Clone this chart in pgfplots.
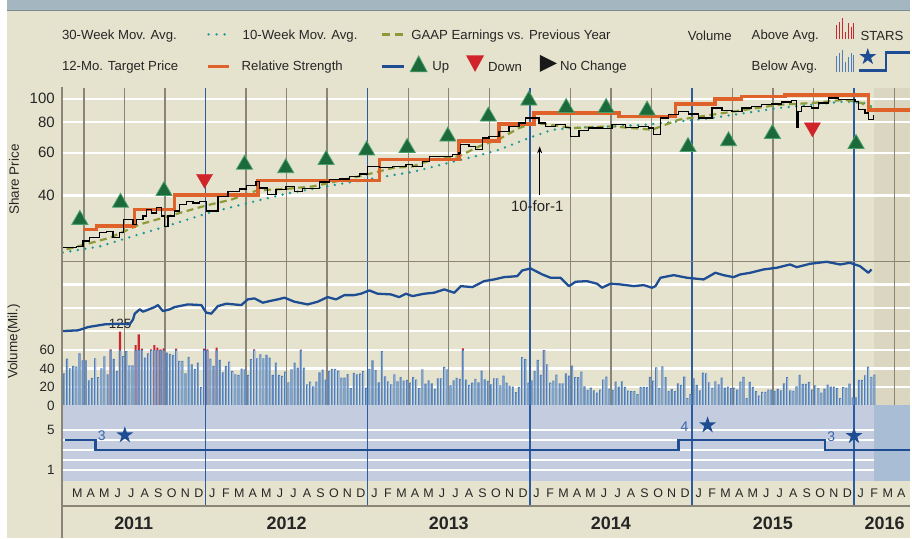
\documentclass[border=0pt]{standalone}
\usepackage{fontspec}
\setmainfont{Liberation Sans}
\usepackage{pgfplots}
\usepackage{pgfplotstable}
\pgfplotsset{compat=1.18}
\usetikzlibrary{arrows.meta,shapes.geometric}

\definecolor{bg}{HTML}{E5E3CD}
\definecolor{bgfut}{HTML}{DBD6BF}
\definecolor{topbar}{HTML}{A4B6C0}
\definecolor{topline}{HTML}{7C8A91}
\definecolor{qgrey}{HTML}{8A8576}
\definecolor{yblue}{HTML}{2D5C9E}
\definecolor{rsblue}{HTML}{1E4D93}
\definecolor{tgt}{HTML}{E0622B}
\definecolor{olive}{HTML}{8C9A3A}
\definecolor{teal30}{HTML}{19979A}
\definecolor{upgreen}{HTML}{1C6A3B}
\definecolor{upedge}{HTML}{4AA068}
\definecolor{dnred}{HTML}{D0232A}
\definecolor{volblue}{HTML}{4F7DB7}
\definecolor{volhi}{HTML}{9DBADD}
\definecolor{volred}{HTML}{C9262E}
\definecolor{starbox}{HTML}{C4CDE0}
\definecolor{starfut}{HTML}{A9BDD5}
\definecolor{lbl}{HTML}{3A66A8}
\definecolor{txt}{HTML}{262626}

\newcommand\fs[1]{\fontsize{#1bp}{#1bp}\selectfont}

% filled five-point star mark
\pgfdeclareplotmark{fstar}{%
  \pgfpathmoveto{\pgfpointpolar{90}{\pgfplotmarksize}}%
  \pgfpathlineto{\pgfpointpolar{126}{0.382*\pgfplotmarksize}}%
  \pgfpathlineto{\pgfpointpolar{162}{\pgfplotmarksize}}%
  \pgfpathlineto{\pgfpointpolar{198}{0.382*\pgfplotmarksize}}%
  \pgfpathlineto{\pgfpointpolar{234}{\pgfplotmarksize}}%
  \pgfpathlineto{\pgfpointpolar{270}{0.382*\pgfplotmarksize}}%
  \pgfpathlineto{\pgfpointpolar{306}{\pgfplotmarksize}}%
  \pgfpathlineto{\pgfpointpolar{342}{0.382*\pgfplotmarksize}}%
  \pgfpathlineto{\pgfpointpolar{18}{\pgfplotmarksize}}%
  \pgfpathlineto{\pgfpointpolar{54}{0.382*\pgfplotmarksize}}%
  \pgfpathclose\pgfusepathqfill}

\pgfplotsset{
  base/.style={scale only axis, width=850bp, xmin=1.36, xmax=64.16,
    anchor=south west, clip=false,
    axis line style={draw=none}, major tick length=0pt,
    xtick=\empty, ytick=\empty,
    tick label style={font=\fs{13.5}, text=txt},
    yticklabel style={anchor=east, inner sep=0pt, xshift=-7bp}},
  yearlines/.style={extra x ticks={12,24,36,48,60}, extra x tick labels={},
    extra x tick style={grid=major, major grid style={yblue, line width=1.4bp}}},
}

% weekly volume (millions), first week early Feb 2011
\pgfplotstableread[row sep=\\]{
v\\
34.8\\50.7\\40.2\\42.7\\42\\56.4\\48.9\\48.9\\27.2\\29.8\\51\\30.5\\40.2\\53.2\\33.7\\60.8\\50.3\\37\\79.8\\53.5\\
58.9\\43.4\\43.4\\65.4\\77\\61.4\\51.7\\56.4\\60.8\\65.4\\62.6\\60.8\\61.8\\57.1\\55.7\\54.6\\61.4\\48.1\\48.1\\34.8\\
52.5\\44.5\\39.5\\46.3\\20\\61.4\\60.8\\50.7\\42.7\\62.6\\49.2\\35.9\\42.7\\47.4\\37.3\\33.7\\33\\39.8\\39.1\\33\\
50\\60.8\\51\\55.3\\51\\54.6\\51.7\\33\\46.3\\33\\31.9\\36.6\\25\\39.1\\46.3\\40.9\\60.4\\40.9\\22.9\\25.8\\
20.7\\25.8\\35.9\\38.8\\28\\37.3\\39.5\\39.5\\37.7\\30.1\\30.1\\34\\18.6\\35.2\\33.7\\34.4\\37\\19.3\\39.5\\48.9\\
38.1\\25\\58.9\\31.5\\26.1\\22.9\\33.7\\26.1\\30.5\\26.9\\27.6\\24.7\\30.5\\28\\18.6\\39.1\\23.6\\27.2\\23.9\\17.9\\
29.4\\29.4\\41.6\\39.1\\21.8\\27.2\\29.8\\28.7\\61.8\\28\\22.2\\24.7\\28.7\\25\\37.7\\28.3\\26.5\\22.9\\29.4\\29.4\\
21.8\\32.3\\24.7\\21.1\\20.4\\14.3\\20\\52.4\\50\\24.7\\27.2\\37\\49.2\\33\\60\\44.5\\24.7\\26.9\\33.4\\23.9\\
23.9\\34.8\\32.3\\43\\30.5\\30.5\\36.6\\20.7\\16.8\\19.3\\16.4\\13.9\\17.1\\28\\31.2\\18.2\\16.8\\25.8\\20.4\\26.1\\
20\\16\\15.4\\15.4\\12.1\\20\\20\\19.7\\30.8\\26.9\\41.3\\18.9\\42.3\\30.5\\15.4\\17.5\\15.4\\23.9\\22.2\\31.2\\
7.8\\12.1\\29.4\\22.2\\16.4\\35.5\\34.8\\25\\19.3\\26.1\\22.9\\30.1\\19.3\\20.4\\18.6\\19.3\\17.1\\25.8\\30.8\\7.8\\
25.4\\20\\15.4\\10.7\\14.6\\14.6\\17.1\\17.1\\15.7\\17.9\\16.4\\23.9\\30.5\\16.4\\15.7\\20.7\\33\\23.3\\23.3\\25.4\\
17.1\\21.8\\18.6\\13.9\\18.2\\22.5\\20.4\\20.4\\18.6\\7.8\\19.7\\19.3\\23.6\\8.8\\8.8\\27.6\\27.6\\32.6\\42\\30.8\\
33.4\\
}\voldata

\begin{document}
\begin{tikzpicture}

% ---------- background ----------
\begin{scope}[x=1bp, y=-1bp, shift={(0bp,539bp)}]
  \fill[white] (0,0) rectangle (912,539);
  \fill[bg] (7,0) rectangle (912,539);
  \fill[topbar] (7,0) rectangle (912,10);
  \draw[topline, line width=1.2bp] (7,10.3) -- (912,10.3);
  \fill[bgfut] (876,88) rectangle (912,406.2);
\end{scope}

% ---------- horizontal white grid, price panel ----------
\begin{axis}[base, at={(62bp,276.7bp)}, height=174.3bp,
  ymode=log, ymin=21.35, ymax=110.96,
  ytick={40,60,80,100}, yticklabels={40,60,80,100}, ymajorgrids,
  major grid style={white, line width=2.2bp},
  yticklabel style={font=\fs{15}}]
\addplot[draw=none] coordinates {(2,50)};
\end{axis}

% ---------- horizontal white grid, volume panel ----------
\begin{axis}[base, at={(62bp,132.8bp)}, height=143.9bp, ymin=0, ymax=155.6,
  ytick={20,40,60,80.5,105.8,131}, yticklabels={20,40,60,,,}, ymajorgrids,
  major grid style={white, line width=2.2bp},
  extra y ticks={0}, extra y tick labels={0}, extra y tick style={grid=none}]
\addplot[draw=none] coordinates {(2,50)};
\end{axis}

% ---------- vertical quarter and year lines ----------
\begin{axis}[base, yearlines, at={(62bp,132.8bp)}, height=318.2bp, ymin=0, ymax=1,
  xtick={3,6,9,15,18,21,27,30,33,39,42,45,51,54,57,63}, xticklabels={},
  xmajorgrids, major grid style={qgrey, line width=1.4bp}]
\addplot[draw=none] coordinates {(2,0.5)};
\end{axis}

\begin{scope}[x=1bp, y=-1bp, shift={(0bp,539bp)}]
  \draw[qgrey, line width=1.3bp] (62,262.3) -- (912,262.3);
\end{scope}

% ---------- price panel ----------
\begin{axis}[base, at={(62bp,276.7bp)}, height=174.3bp,
  ymode=log, ymin=21.35, ymax=110.96]
% 30-week moving average
\addplot[teal30, line width=2.6bp, line cap=round, dash pattern=on 0bp off 7.6bp] coordinates {
 (1.43,23.3) (4.17,24.7) (6.63,27.2) (9.10,29.9) (12.05,33.7) (15.01,37.1) (17.96,40.7)
 (20.92,43.6) (23.87,46.5) (27.31,50.0) (30.27,55.0) (32.24,58.5) (33.72,61.7) (35.94,69.0)
 (37.66,74.6) (39.63,76.2) (42.09,77.0) (44.56,78.2) (47.02,80.7) (49.48,83.3) (51.95,87.4)
 (54.41,91.6) (56.87,94.5) (59.33,97.5) (60.81,96.0) (61.30,93.0)};
% 10-week moving average
\addplot[olive, line width=2.2bp, dash pattern=on 7bp off 4.5bp] coordinates {
 (1.71,24.0) (4.91,26.8) (7.12,30.4) (10.08,33.9) (12.05,36.4) (13.92,38.5) (15.84,42.0)
 (18.20,42.7) (19.93,43.6) (21.66,45.7) (23.87,48.7) (25.84,51.9) (27.31,52.7) (28.79,56.2)
 (30.76,58.0) (32.24,63.7) (33.72,68.2) (35.20,75.8) (36.31,79.5) (37.17,78.7) (39.14,75.8)
 (42.09,77.0) (45.05,74.6) (47.02,82.0) (49.48,86.0) (51.95,90.1) (54.41,94.5) (56.87,96.0)
 (59.33,99.1) (60.56,96.0) (61.30,91.6)};
% 12-month target price
\addplot[tgt, line width=3.6bp, const plot] coordinates {
 (2.93,29.0) (3.92,29.9) (6.75,35.0) (9.71,40.2) (15.86,46.1) (24.86,56.2) (30.77,67.2)
 (33.72,78.7) (36.31,87.4) (42.59,84.6) (46.78,95.1) (49.73,100) (51.67,102.2) (54.90,103.9)
 (61.06,90.1) (64.16,90.1)};
% share price
\addplot[black, line width=1.3bp, const plot] coordinates {
 (1.43,24.5) (2.45,24.7) (2.93,26.0) (3.43,26.9) (4.17,28.1) (4.66,28.5) (5.15,26.8) (5.64,28.1)
 (5.94,31.9) (6.63,30.4) (6.88,31.9) (7.37,32.9) (7.62,35.0) (7.99,33.9) (8.36,35.6) (8.73,32.9)
 (8.97,29.9) (9.21,32.9) (9.71,34.5) (10.08,36.7) (10.57,37.9) (11.06,37.3) (11.56,37.9)
 (12.05,34.5) (12.54,34.5) (12.91,39.7) (13.65,41.6) (14.51,42.6) (15.01,44.1) (15.74,45.7)
 (15.99,43.0) (16.60,40.3) (17.22,42.3) (17.96,43.6) (18.57,41.6) (19.19,42.7) (19.93,42.7)
 (20.42,45.5) (21.16,46.5) (21.90,46.8) (22.64,48.0) (23.38,49.1) (23.99,52.7) (24.85,52.2)
 (25.84,52.7) (26.83,53.6) (27.31,52.7) (28.05,55.3) (28.55,58.0) (29.53,58.0) (30.27,58.9)
 (30.76,59.8) (30.89,64.7) (31.50,63.7) (32.00,61.7) (32.49,69.0) (32.98,70.0) (33.72,73.4)
 (34.46,77.0) (35.20,79.5) (35.69,83.3) (36.31,83.3) (36.68,79.5) (37.17,77.0) (37.91,78.2)
 (38.65,76.2) (39.02,70.0) (39.63,73.9) (40.37,75.8) (41.35,75.3) (42.09,78.2) (43.08,76.2)
 (44.06,77.0) (44.80,75.8) (45.17,71.2) (45.67,83.3) (46.28,86.0) (47.02,88.7) (47.76,86.5)
 (48.50,83.3) (49.48,91.6) (50.22,89.3) (50.96,88.7) (51.70,91.6) (52.43,93.0) (53.17,94.5)
 (53.91,95.1) (54.65,96.9) (55.39,98.1) (55.76,76.0) (55.85,88.7) (56.13,93.0) (56.87,91.6)
 (57.36,96.0) (58.10,100.7) (58.84,99.1) (59.58,99.1) (60.07,97.5) (60.32,90.1) (60.81,87.4)
 (61.06,82.0) (61.43,85.4)};
% GAAP earnings vs previous year
\addplot[only marks, mark=triangle*, mark size=9.3bp,
  mark options={fill=upgreen, draw=upedge, line width=0.8bp}] coordinates {
 (2.69,31.8) (5.70,37.4) (8.92,41.8) (14.88,53.6) (17.93,51.9) (20.92,56.1) (23.92,61.4)
 (26.92,62.9) (29.93,70.0) (32.93,84.6) (35.93,98.5) (38.69,91.8) (41.65,91.8) (44.68,89.6)
 (47.71,63.4) (50.71,67.0) (53.96,71.8) (60.15,65.3)};
\addplot[only marks, mark=triangle*, mark size=9.3bp,
  mark options={rotate=180, fill=dnred, draw=dnred}] coordinates {(11.92,46.8) (56.92,76.2)};
\draw[-{Stealth[length=7bp,width=5bp]}, line width=1.1bp, black] (axis cs:36.73,40.3) -- (axis cs:36.73,63.7);
\node[font=\fs{15}, text=txt] at (axis cs:36.55,36.1) {10-for-1};
\end{axis}

% ---------- volume bars ----------
\begin{axis}[base, at={(62bp,132.8bp)}, height=143.9bp, ymin=0, ymax=155.6]
% weeks above average: red part above the 60 line
\addplot[ybar, bar width=2.1bp, bar shift=0pt, fill=volred, draw=none,
  restrict y to domain=60:1000]
  table[x expr={1.51+\coordindex*0.230769}, y=v] \voldata;
\addplot[ybar, bar width=2.1bp, bar shift=0pt, fill=volblue, draw=none,
  y filter/.expression={min(y,60)}]
  table[x expr={1.51+\coordindex*0.230769}, y=v] \voldata;
\addplot[ybar, bar width=0.7bp, bar shift=0.35bp, fill=volhi, draw=none,
  y filter/.expression={min(y,60)-1}]
  table[x expr={1.51+\coordindex*0.230769}, y=v] \voldata;
\node[font=\fs{13.5}, text=txt] at (axis cs:5.68,87.8) {125};
\end{axis}

% ---------- relative strength ----------
\begin{axis}[base, at={(62bp,132.8bp)}, height=143.9bp, ymin=0, ymax=143.9]
\addplot[rsblue, line width=2.3bp, line join=round] coordinates {
 (1.45,74.5) (2.56,75.2) (3.30,78.5) (4.54,81.2) (5.64,81.9) (6.38,81.2) (6.63,86.2) (6.75,91.9)
 (7.12,96.2) (7.37,93.9) (8.23,98.5) (8.47,100.5) (8.84,94.5) (9.34,96.2) (9.71,98.5) (10.69,101.2)
 (11.68,100.5) (12.05,92.9) (12.42,91.9) (12.91,99.5) (13.53,101.9) (14.64,100.5) (15.12,106.2)
 (15.62,107.2) (16.23,102.9) (16.73,104.5) (17.34,106.2) (17.84,107.9) (18.57,103.9) (19.56,101.2)
 (20.30,103.9) (21.03,108.5) (21.66,106.2) (22.27,110.5) (23.01,110.5) (23.50,111.9) (24.12,115.2)
 (24.73,111.9) (25.72,111.2) (26.33,108.5) (26.83,111.9) (27.31,109.5) (28.18,111.9) (28.92,112.9)
 (29.66,116.2) (30.40,112.9) (30.89,119.5) (31.75,118.5) (32.61,124.5) (33.35,126.2) (34.09,128.5)
 (35.07,129.5) (35.44,135.2) (36.06,137.2) (36.92,131.2) (37.54,127.9) (38.28,127.9) (38.90,119.5)
 (39.39,123.9) (40.24,124.5) (40.98,121.9) (41.35,117.9) (41.97,121.9) (42.71,121.2) (43.69,119.5)
 (44.43,120.5) (45.05,117.9) (45.30,119.5) (45.67,127.9) (46.65,130.5) (47.63,127.9) (48.87,126.2)
 (49.73,132.9) (50.34,130.5) (51.08,128.5) (51.58,131.2) (52.32,132.9) (53.30,136.2) (54.28,137.9)
 (55.27,141.2) (55.76,138.5) (56.75,141.9) (57.98,143.9) (58.97,141.2) (59.70,142.9) (60.44,139.5)
 (61.06,132.9) (61.30,136.2)};
\end{axis}

% ---------- STARS ratings ----------
\begin{axis}[base, yearlines, at={(62bp,57.3bp)}, height=75.5bp, ymin=-0.07, ymax=7.48,
  axis background/.style={fill=starbox},
  ytick={1,2,3,4,5}, yticklabels={1,,,,5}, ymajorgrids,
  major grid style={white, line width=1.5bp}]
\fill[starfut] (axis cs:61.5,-0.07) rectangle (axis cs:64.16,7.48);
\addplot[rsblue, line width=2.5bp, const plot] coordinates {
 (1.58,4) (3.85,3) (47.0,4) (57.86,3) (64.16,3)};
\addplot[only marks, mark=fstar, mark size=8.9bp, rsblue] coordinates {
 (6.02,4.5) (49.16,5.5) (60.0,4.43)};
\node[font=\fs{14}, text=lbl] at (axis cs:4.31,4.4) {3};
\node[font=\fs{14}, text=lbl] at (axis cs:47.46,5.3) {4};
\node[font=\fs{14}, text=lbl] at (axis cs:58.32,4.33) {3};
\end{axis}

% ---------- month row and years ----------
\begin{axis}[base, yearlines, at={(62bp,32bp)}, height=25.3bp, ymin=0, ymax=1,
  xtick={2.5,3.5,...,63.5},
  xticklabels={M,A,M,J,J,A,S,O,N,D,
    J,F,M,A,M,J,J,A,S,O,N,D, J,F,M,A,M,J,J,A,S,O,N,D,
    J,F,M,A,M,J,J,A,S,O,N,D, J,F,M,A,M,J,J,A,S,O,N,D, J,F,M,A},
  xticklabel style={anchor=center, yshift=12.65bp, font=\fs{12.5}, text=txt}]
\addplot[draw=none] coordinates {(2,0.5)};
\node[font={\fs{18}\bfseries}, text=txt, yshift=-17bp] at (axis cs:6.68,0) {2011};
\node[font={\fs{18}\bfseries}, text=txt, yshift=-17bp] at (axis cs:18,0) {2012};
\node[font={\fs{18}\bfseries}, text=txt, yshift=-17bp] at (axis cs:30,0) {2013};
\node[font={\fs{18}\bfseries}, text=txt, yshift=-17bp] at (axis cs:42,0) {2014};
\node[font={\fs{18}\bfseries}, text=txt, yshift=-17bp] at (axis cs:54,0) {2015};
\node[font={\fs{18}\bfseries}, text=txt, yshift=-17bp] at (axis cs:62.27,0) {2016};
\end{axis}

% ---------- frame, labels, legend ----------
\begin{scope}[x=1bp, y=-1bp, shift={(0bp,539bp)},
  nodes={font=\fs{13.2}, text=txt, inner sep=0pt}]
  \draw[qgrey, line width=1.4bp] (62,87) -- (62,539);
  \draw[qgrey, line width=1.3bp] (62,507) -- (912,507);

  \node[rotate=90, font=\fs{13.5}] at (14,180) {Share Price};
  \node[rotate=90, font=\fs{13.5}] at (14,342) {Volume(Mil.)};

  % row 1
  \node[anchor=west] at (62,36) {30-Week Mov. Avg.};
  \draw[teal30, line width=2.6bp, line cap=round, dash pattern=on 0bp off 8bp] (209,34.5) -- (226,34.5);
  \node[anchor=west] at (243,36) {10-Week Mov. Avg.};
  \draw[olive, line width=2.2bp, dash pattern=on 8bp off 5bp] (383,34.5) -- (405,34.5);
  \node[anchor=west] at (412,36) {GAAP Earnings vs. Previous Year};
  \node[anchor=west] at (689,36) {Volume};
  \node[anchor=west] at (753,36) {Above Avg.};
  \foreach \x/\t in {838/25, 841/21.7, 844/18.3, 847/31.7, 850/23, 853/26.7, 855.5/23.3}
    \draw[volred, line width=1.3bp] (\x,39.3) -- (\x,\t);
  \node[anchor=west] at (862,36) {STARS};

  % row 2
  \node[anchor=west] at (62,67) {12-Mo. Target Price};
  \draw[tgt, line width=3.8bp] (208,66.7) -- (229,66.7);
  \node[anchor=west] at (242,67) {Relative Strength};
  \draw[rsblue, line width=2.4bp] (383,66.7) -- (405,66.7);
  \filldraw[fill=upgreen, draw=upedge, line width=0.8bp] (411,72) -- (419.5,56) -- (428,72) -- cycle;
  \node[anchor=west] at (433,67) {Up};
  \fill[dnred] (467,55.5) -- (485,55.5) -- (476,72) -- cycle;
  \node[anchor=west] at (489,67) {Down};
  \fill[black!90] (541,55) -- (558,63.5) -- (541,72) -- cycle;
  \node[anchor=west] at (561,67) {No Change};
  \node[anchor=west] at (753,67) {Below Avg.};
  \foreach \x/\t in {838/56, 841/53, 844/50, 847/61.7, 850/56.7, 853/53.3, 855.5/55}
    \draw[volblue, line width=1.3bp] (\x,71.7) -- (\x,\t);
  \node[star, star points=5, star point ratio=2.618, fill=rsblue, minimum size=17.8bp] at (869.5,57) {};
  \draw[rsblue, line width=2.5bp] (861,70.5) -- (888,70.5) -- (888,52.5) -- (912,52.5);
\end{scope}

\end{tikzpicture}
\end{document}
